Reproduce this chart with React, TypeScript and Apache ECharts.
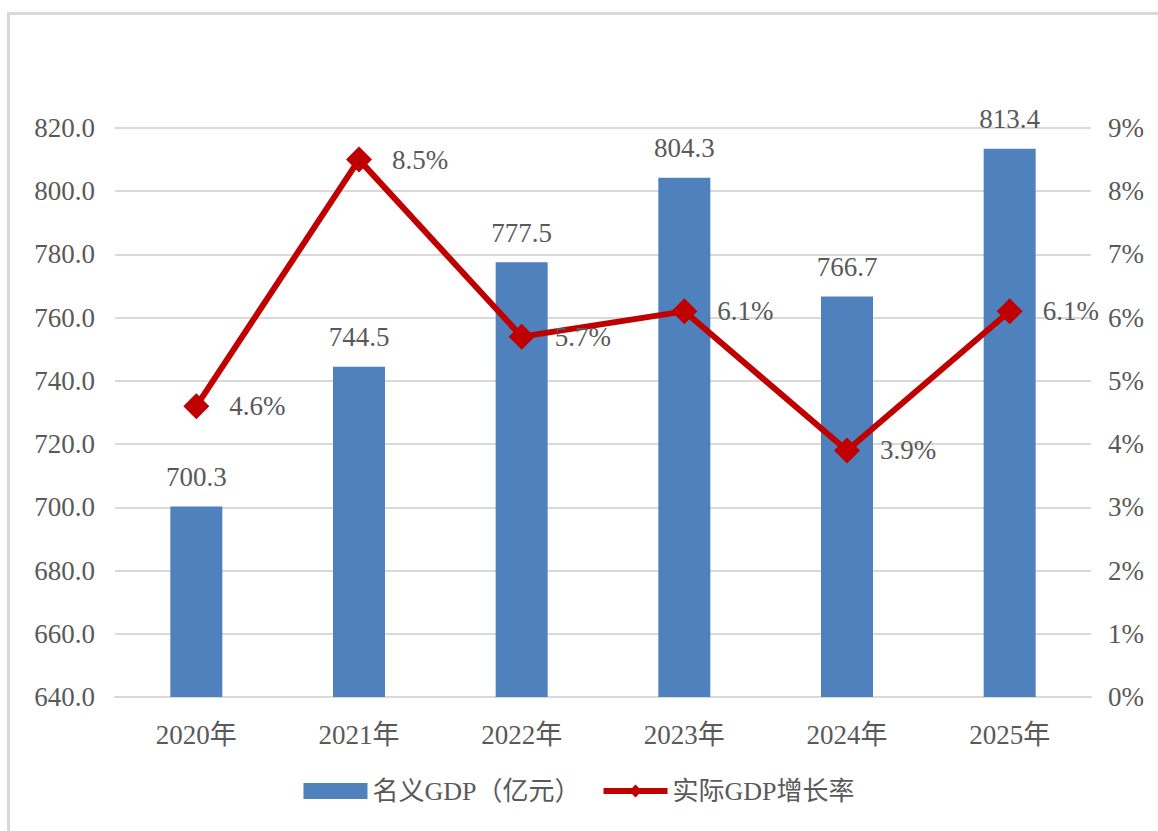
import React, { useEffect, useRef } from "react";
import * as echarts from "echarts";

const categories = ["2020年", "2021年", "2022年", "2023年", "2024年", "2025年"];
const nominalGdp = [700.3, 744.5, 777.5, 804.3, 766.7, 813.4];
const realGrowth = [4.6, 8.5, 5.7, 6.1, 3.9, 6.1];
const seriesNames = ["名义GDP（亿元）", "实际GDP增长率"];

const FONT = "'Liberation Serif', 'Times New Roman', 'Noto Sans CJK SC', serif";
const TEXT = "#595959";

export default function App() {
  const ref = useRef<HTMLDivElement>(null);
  useEffect(() => {
    if (!ref.current) return;
    const chart = echarts.init(ref.current, null, { renderer: "svg" });
    chart.setOption({
      animation: false,
      backgroundColor: "transparent",
      textStyle: { fontFamily: FONT, color: TEXT },
      grid: { left: 115, right: 67, top: 128, bottom: 134, containLabel: false },
      legend: {
        bottom: 22,
        left: "center",
        itemWidth: 64,
        itemHeight: 16,
        itemGap: 20,
        textStyle: { fontFamily: FONT, fontSize: 26, color: TEXT },
        data: [
          { name: seriesNames[0], icon: "rect" },
          { name: seriesNames[1], lineStyle: { width: 6, color: "#c00000" } },
        ],
      },
      xAxis: {
        type: "category",
        data: categories,
        axisLine: { show: true, lineStyle: { color: "#d9d9d9", width: 2 } },
        axisTick: { show: false },
        axisLabel: { fontFamily: FONT, fontSize: 27, color: TEXT, margin: 24 },
      },
      yAxis: [
        {
          type: "value",
          min: 640,
          max: 820,
          interval: 20,
          axisLine: { show: false },
          axisTick: { show: false },
          splitLine: { lineStyle: { color: "#d9d9d9", width: 2 } },
          axisLabel: {
            fontFamily: FONT,
            fontSize: 27,
            color: TEXT,
            margin: 20,
            formatter: (v: number) => v.toFixed(1),
          },
        },
        {
          type: "value",
          min: 0,
          max: 9,
          interval: 1,
          axisLine: { show: false },
          axisTick: { show: false },
          splitLine: { show: false },
          axisLabel: {
            fontFamily: FONT,
            fontSize: 27,
            color: TEXT,
            margin: 17,
            formatter: (v: number) => v + "%",
          },
        },
      ],
      series: [
        {
          name: seriesNames[0],
          type: "bar",
          data: nominalGdp,
          barWidth: 52,
          itemStyle: { color: "#4f81bd" },
          label: {
            show: true,
            position: "top",
            distance: 16,
            fontFamily: FONT,
            fontSize: 27,
            color: TEXT,
            formatter: (p: any) => Number(p.value).toFixed(1),
          },
        },
        {
          name: seriesNames[1],
          type: "line",
          yAxisIndex: 1,
          data: realGrowth,
          symbol: "diamond",
          symbolSize: 26,
          lineStyle: { color: "#c00000", width: 6 },
          itemStyle: { color: "#c00000" },
          label: {
            show: true,
            position: "right",
            distance: 20,
            fontFamily: FONT,
            fontSize: 27,
            color: TEXT,
            formatter: (p: any) => Number(p.value).toFixed(1) + "%",
          },
        },
      ],
    });
    return () => chart.dispose();
  }, []);

  return (
    <div style={{ position: "fixed", left: 0, top: 0, width: 1158, height: 831, background: "#fff", overflow: "hidden" }}>
      <div
        style={{
          position: "absolute",
          left: 7,
          top: 12,
          width: 1300,
          height: 1000,
          borderLeft: "3px solid #d9d9d9",
          borderTop: "3px solid #d9d9d9",
        }}
      />
      <div ref={ref} style={{ position: "absolute", left: 0, top: 0, width: 1158, height: 831 }} />
    </div>
  );
}
